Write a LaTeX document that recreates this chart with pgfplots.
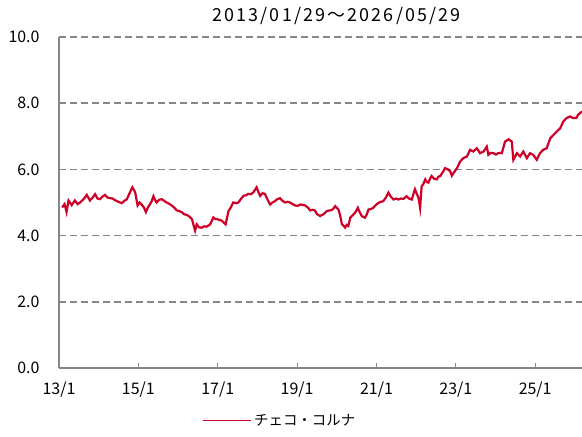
\documentclass[border=0pt]{standalone}
\usepackage{fontspec}
\setmainfont{Noto Sans CJK JP}
\newfontfamily\titlefont[LetterSpace=12]{Noto Sans CJK JP}
\usepackage{pgfplots}
\pgfplotsset{compat=1.18}
\definecolor{czk}{RGB}{206,0,40}
\definecolor{axgray}{RGB}{134,134,134}
\begin{document}
\fontsize{16}{18}\selectfont
\begin{tikzpicture}
\begin{axis}[
  at={(0,0)}, anchor=south west,
  scale only axis, width=523bp, height=331bp,
  xmin=2013, xmax=2026.18, ymin=0, ymax=10,
  axis lines*=left,
  axis line style={axgray, line width=1.5bp},
  every outer x axis line/.append style={-}, every outer y axis line/.append style={-},
  xtick={2013,2015,2017,2019,2021,2023,2025},
  xticklabels={13/1,15/1,17/1,19/1,21/1,23/1,25/1},
  ytick={0,2,4,6,8,10},
  yticklabel style={/pgf/number format/fixed, /pgf/number format/fixed zerofill, /pgf/number format/precision=1, /pgf/number format/assume math mode=true, xshift=-14bp, font=\fontsize{16}{18}\selectfont},
  xticklabel style={yshift=-8bp, font=\fontsize{16}{18}\selectfont},
  x tick style={axgray, line width=1bp}, major tick length=5bp,
  y tick style={draw=none},
  tick align=inside,
  ymajorgrids, grid style={axgray, line width=1.5bp, dash pattern=on 7bp off 4bp},
  clip=true,
  legend style={at={(0.4226,-0.159)}, anchor=center, draw=none, fill=none, font=\fontsize{14.5}{16}\selectfont},
  legend image code/.code={\draw[#1, line width=1.3bp] (0bp,0bp) -- (48bp,0bp);},
  legend cell align=left,
]
\addplot[czk, line width=2.2bp] coordinates {
(2013.08,4.85)(2013.14,4.95)(2013.19,4.71)(2013.24,5.06)(2013.32,4.92)(2013.40,5.06)(2013.47,4.95)(2013.53,5.00)
(2013.62,5.10)(2013.70,5.23)(2013.78,5.06)(2013.85,5.15)(2013.91,5.25)(2013.97,5.12)(2014.03,5.10)(2014.10,5.18)
(2014.16,5.23)(2014.22,5.15)(2014.29,5.13)(2014.35,5.12)(2014.41,5.07)(2014.50,5.02)(2014.58,4.98)(2014.65,5.05)
(2014.71,5.10)(2014.79,5.31)(2014.85,5.46)(2014.92,5.31)(2014.98,4.91)(2015.03,5.00)(2015.08,4.94)(2015.14,4.85)
(2015.19,4.71)(2015.24,4.85)(2015.29,4.94)(2015.34,5.05)(2015.38,5.19)(2015.42,5.08)(2015.46,5.00)(2015.52,5.08)
(2015.59,5.10)(2015.65,5.05)(2015.71,5.00)(2015.78,4.96)(2015.84,4.91)(2015.90,4.85)(2015.97,4.76)(2016.03,4.74)
(2016.09,4.71)(2016.15,4.65)(2016.22,4.62)(2016.26,4.60)(2016.35,4.50)(2016.43,4.15)(2016.47,4.34)(2016.53,4.25)
(2016.60,4.24)(2016.66,4.28)(2016.72,4.27)(2016.81,4.34)(2016.89,4.55)(2016.94,4.50)(2016.98,4.50)(2017.05,4.47)
(2017.10,4.45)(2017.20,4.34)(2017.27,4.74)(2017.33,4.85)(2017.39,5.00)(2017.46,4.98)(2017.52,5.00)(2017.58,5.10)
(2017.65,5.20)(2017.71,5.22)(2017.77,5.26)(2017.84,5.25)(2017.90,5.31)(2017.98,5.46)(2018.03,5.30)(2018.07,5.20)
(2018.13,5.28)(2018.19,5.26)(2018.25,5.10)(2018.32,4.94)(2018.38,5.00)(2018.44,5.04)(2018.50,5.10)(2018.57,5.13)
(2018.63,5.05)(2018.70,5.00)(2018.76,5.02)(2018.82,5.00)(2018.89,4.95)(2018.95,4.91)(2019.02,4.90)(2019.08,4.94)
(2019.14,4.93)(2019.20,4.91)(2019.27,4.85)(2019.33,4.76)(2019.39,4.78)(2019.45,4.76)(2019.50,4.65)(2019.58,4.59)
(2019.62,4.62)(2019.66,4.64)(2019.75,4.74)(2019.81,4.76)(2019.87,4.77)(2019.92,4.82)(2019.96,4.89)(2020.04,4.79)
(2020.08,4.64)(2020.13,4.34)(2020.17,4.30)(2020.21,4.24)(2020.25,4.32)(2020.29,4.29)(2020.34,4.54)(2020.42,4.64)
(2020.48,4.72)(2020.53,4.84)(2020.58,4.70)(2020.63,4.59)(2020.71,4.54)(2020.76,4.65)(2020.80,4.79)(2020.86,4.80)
(2020.92,4.84)(2020.98,4.92)(2021.05,4.99)(2021.11,5.02)(2021.17,5.04)(2021.24,5.15)(2021.30,5.30)(2021.36,5.18)
(2021.43,5.09)(2021.49,5.12)(2021.55,5.09)(2021.62,5.12)(2021.68,5.11)(2021.76,5.19)(2021.82,5.12)(2021.89,5.09)
(2021.93,5.25)(2021.97,5.40)(2022.02,5.25)(2022.06,5.14)(2022.10,4.84)(2022.14,5.50)(2022.18,5.55)(2022.23,5.70)
(2022.27,5.62)(2022.31,5.60)(2022.35,5.72)(2022.39,5.80)(2022.45,5.72)(2022.52,5.70)(2022.56,5.78)(2022.61,5.80)
(2022.65,5.88)(2022.69,5.95)(2022.73,6.04)(2022.80,6.00)(2022.86,5.94)(2022.90,5.81)(2022.96,5.92)(2023.03,6.04)
(2023.11,6.24)(2023.19,6.34)(2023.28,6.39)(2023.36,6.59)(2023.44,6.54)(2023.53,6.64)(2023.61,6.49)(2023.70,6.54)
(2023.78,6.69)(2023.82,6.44)(2023.88,6.50)(2023.95,6.49)(2024.01,6.45)(2024.07,6.49)(2024.12,6.50)(2024.16,6.49)
(2024.24,6.84)(2024.33,6.91)(2024.41,6.84)(2024.45,6.29)(2024.50,6.40)(2024.54,6.49)(2024.62,6.39)(2024.70,6.54)
(2024.79,6.34)(2024.87,6.49)(2024.95,6.44)(2025.04,6.29)(2025.12,6.49)(2025.20,6.59)(2025.29,6.64)(2025.38,6.94)
(2025.46,7.04)(2025.54,7.14)(2025.63,7.24)(2025.71,7.45)(2025.79,7.55)(2025.88,7.60)(2025.96,7.55)(2026.04,7.55)
(2026.08,7.65)(2026.18,7.75)
};
\addlegendentry{チェコ・コルナ}
\end{axis}
\node at (277.5bp,352bp) {\titlefont\fontsize{18}{20}\selectfont 2013/01/29～2026/05/29};
\pgfresetboundingbox
\path (-59bp,-69bp) rectangle (523bp,368bp);
\end{tikzpicture}
\end{document}
